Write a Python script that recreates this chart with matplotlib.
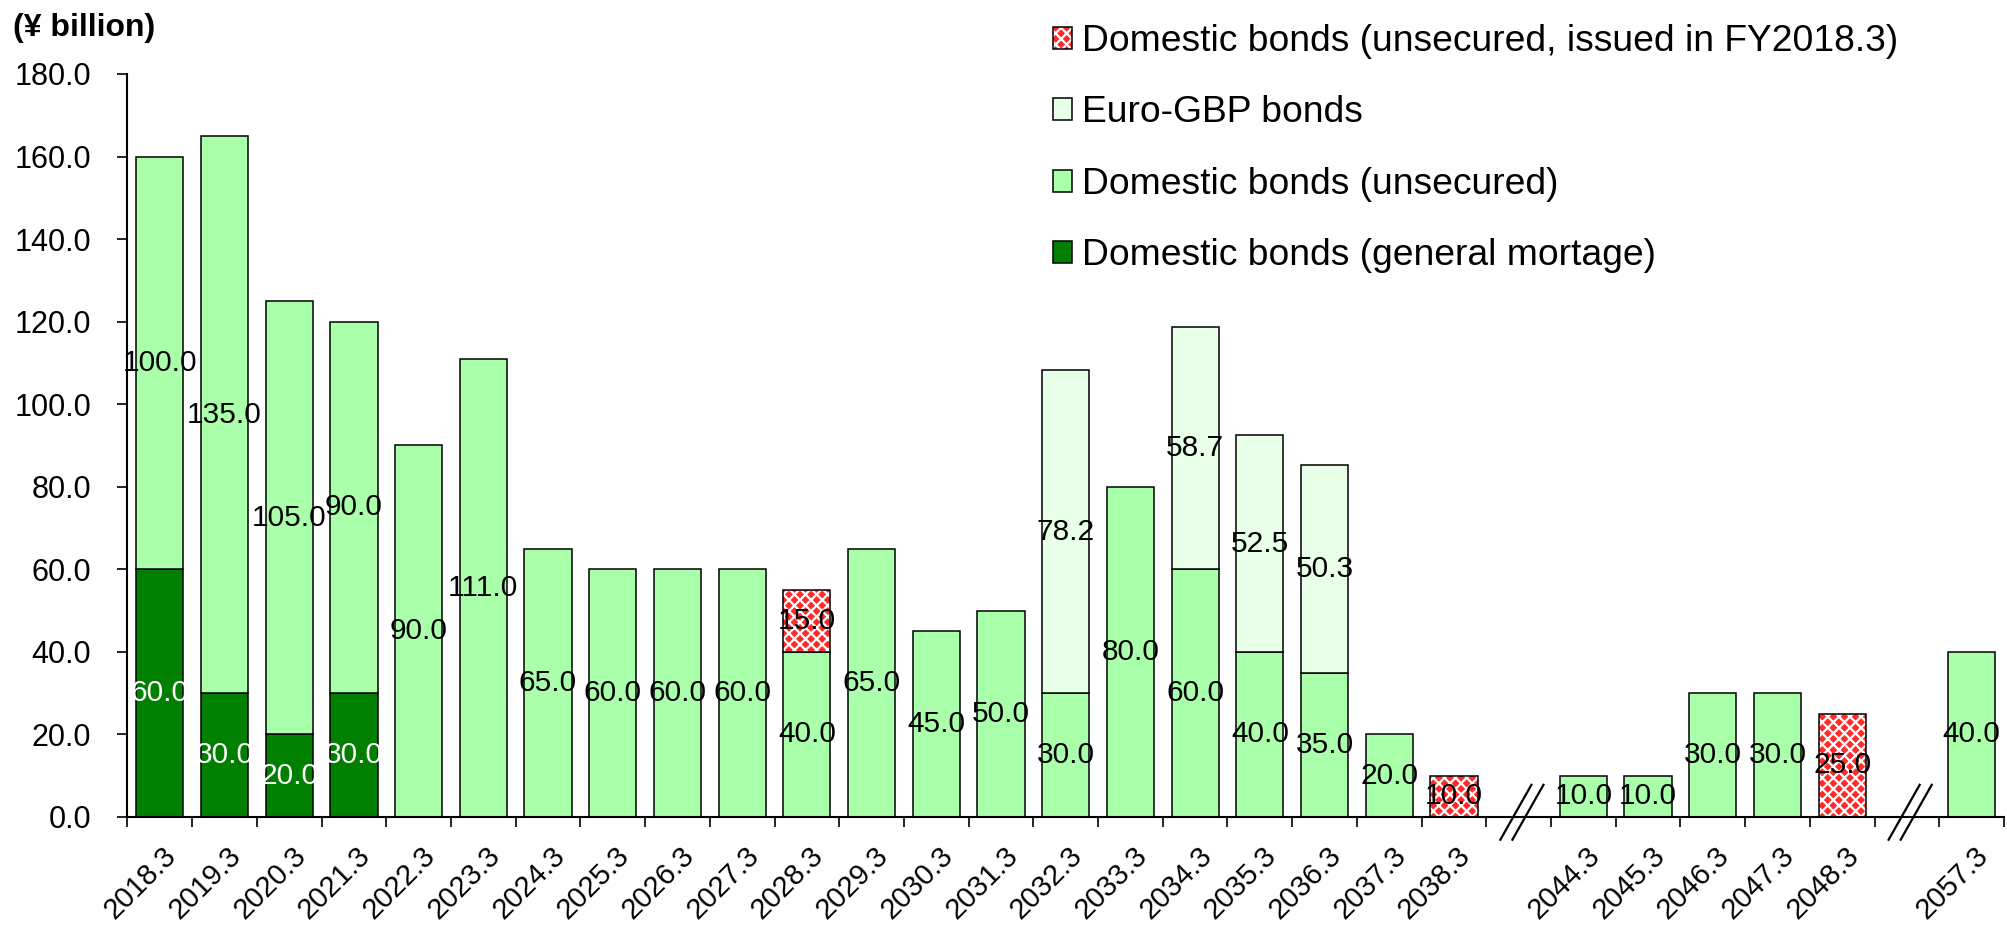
"""Bond redemption schedule chart (stacked bars with axis breaks)."""

import matplotlib
matplotlib.use("Agg")
import matplotlib.pyplot as plt
from matplotlib import font_manager
from matplotlib.patches import Patch
from matplotlib.legend_handler import HandlerTuple
import numpy as np

# Fiscal-year maturities; "" marks the broken-axis gap slots
categories = [
    "2018.3", "2019.3", "2020.3", "2021.3", "2022.3", "2023.3", "2024.3",
    "2025.3", "2026.3", "2027.3", "2028.3", "2029.3", "2030.3", "2031.3",
    "2032.3", "2033.3", "2034.3", "2035.3", "2036.3", "2037.3", "2038.3",
    "", "2044.3", "2045.3", "2046.3", "2047.3", "2048.3", "", "2057.3",
]
gap_slots = [21, 27]

# Values in ¥ billion, one list per series (bottom -> top of stack)
mortgage = [60, 30, 20, 30, 0, 0, 0, 0, 0, 0, 0, 0, 0, 0, 0,
            0, 0, 0, 0, 0, 0, 0, 0, 0, 0, 0, 0, 0, 0]
unsecured = [100, 135, 105, 90, 90, 111, 65, 60, 60, 60, 40, 65, 45, 50, 30,
             80, 60, 40, 35, 20, 0, 0, 10, 10, 30, 30, 0, 0, 40]
euro_gbp = [0, 0, 0, 0, 0, 0, 0, 0, 0, 0, 0, 0, 0, 0, 78.2,
            0, 58.7, 52.5, 50.3, 0, 0, 0, 0, 0, 0, 0, 0, 0, 0]
fy2018 = [0, 0, 0, 0, 0, 0, 0, 0, 0, 0, 15, 0, 0, 0, 0,
          0, 0, 0, 0, 0, 10, 0, 0, 0, 0, 0, 25, 0, 0]

y_ticks = [0, 20, 40, 60, 80, 100, 120, 140, 160, 180]

DARK_GREEN = "#007f00"
LIGHT_GREEN = "#aaffaa"
PALE_GREEN = "#e8ffe8"
RED = "#ff2a2a"


def pick_font(names):
    available = {f.name for f in font_manager.fontManager.ttflist}
    for n in names:
        if n in available:
            return n
    return "DejaVu Sans"


main_font = pick_font(["Liberation Sans", "Arial"])
plt.rcParams["font.family"] = [main_font, "DejaVu Sans"]
plt.rcParams["hatch.linewidth"] = 1.6

W, H = 2007, 926
fig = plt.figure(figsize=(W / 100, H / 100), dpi=100)
ax = fig.add_axes([127.4 / W, (H - 817) / H, (2004 - 127.4) / W, (817 - 74) / H])

x = np.arange(len(categories))
bar_w = 0.73
edge_lw = 1.1

series = [
    ("Domestic bonds (general mortage)", mortgage, DARK_GREEN, "white"),
    ("Domestic bonds (unsecured)", unsecured, LIGHT_GREEN, "black"),
    ("Euro-GBP bonds", euro_gbp, PALE_GREEN, "black"),
    ("Domestic bonds (unsecured, issued in FY2018.3)", fy2018, RED, "black"),
]

bottom = np.zeros(len(categories))
for name, vals, color, txt_color in series:
    vals = np.array(vals, dtype=float)
    idx = np.nonzero(vals)[0]
    if color == RED:
        # red ground with white pattern, then black outline on top
        ax.bar(x[idx], vals[idx], bottom=bottom[idx], width=bar_w,
               color=RED, edgecolor="white", hatch="xxx", linewidth=0, zorder=2)
        ax.bar(x[idx], vals[idx], bottom=bottom[idx], width=bar_w,
               facecolor="none", edgecolor="black", linewidth=edge_lw, zorder=3)
    else:
        ax.bar(x[idx], vals[idx], bottom=bottom[idx], width=bar_w,
               color=color, edgecolor="black", linewidth=edge_lw, zorder=2)
    for i in idx:
        ax.text(x[i], bottom[i] + vals[i] / 2, f"{vals[i]:.1f}",
                ha="center", va="center", fontsize=21.5, color=txt_color, zorder=4)
    bottom += vals

ax.set_xlim(-0.5, len(categories) - 0.5)
ax.set_ylim(0, 180)

# axes styling
for side in ["top", "right"]:
    ax.spines[side].set_visible(False)
for side in ["left", "bottom"]:
    ax.spines[side].set_linewidth(1.5)
    ax.spines[side].set_color("black")

ax.set_yticks(y_ticks)
ax.set_yticklabels([f"{v:.1f}" for v in y_ticks], fontsize=22)
ax.tick_params(axis="y", direction="out", length=7, width=1.2, pad=19)

# labels sit slightly right of the slot centre, ticks mark slot boundaries
ax.set_xticks(x + 0.19)
ax.set_xticklabels(categories, fontsize=21)
ax.set_xticks(np.arange(-0.5, len(categories)), minor=True)
ax.tick_params(axis="x", which="major", length=0, pad=25)
ax.tick_params(axis="x", which="minor", direction="out", length=7, width=1.2)
for lbl in ax.get_xticklabels():
    lbl.set_rotation(45)
    lbl.set_ha("right")
    lbl.set_va("center")
    lbl.set_rotation_mode("anchor")

# axis-break marks at the gap slots
for g in gap_slots:
    for dx in (-0.093, 0.093):
        ax.plot([g + 0.05 + dx - 0.24, g + 0.05 + dx + 0.24], [-5.5, 7.8],
                color="black", linewidth=1.6, clip_on=False, zorder=5)

fig.text(13 / W, 1 - 28 / H, "(¥ billion)", fontsize=23, fontweight="bold",
         ha="left", va="center")

# legend (top to bottom order as in reference)
handles = [
    (Patch(facecolor=RED, edgecolor="white", hatch="xxx", linewidth=0),
     Patch(facecolor="none", edgecolor="black", linewidth=edge_lw)),
    Patch(facecolor=PALE_GREEN, edgecolor="black", linewidth=edge_lw),
    Patch(facecolor=LIGHT_GREEN, edgecolor="black", linewidth=edge_lw),
    Patch(facecolor=DARK_GREEN, edgecolor="black", linewidth=edge_lw),
]
labels = [series[3][0], series[2][0], series[1][0], series[0][0]]
fig.legend(handles, labels, loc="upper left",
           bbox_to_anchor=(1053 / W, 1 - 24 / H), frameon=False,
           prop={"family": main_font, "size": 26.8},
           handlelength=0.52, handleheight=0.53, handletextpad=0.27,
           labelspacing=0.98, borderpad=0, borderaxespad=0,
           handler_map={tuple: HandlerTuple(ndivide=1)})

fig.savefig("out.png", dpi=100, facecolor="white")
plt.close(fig)
